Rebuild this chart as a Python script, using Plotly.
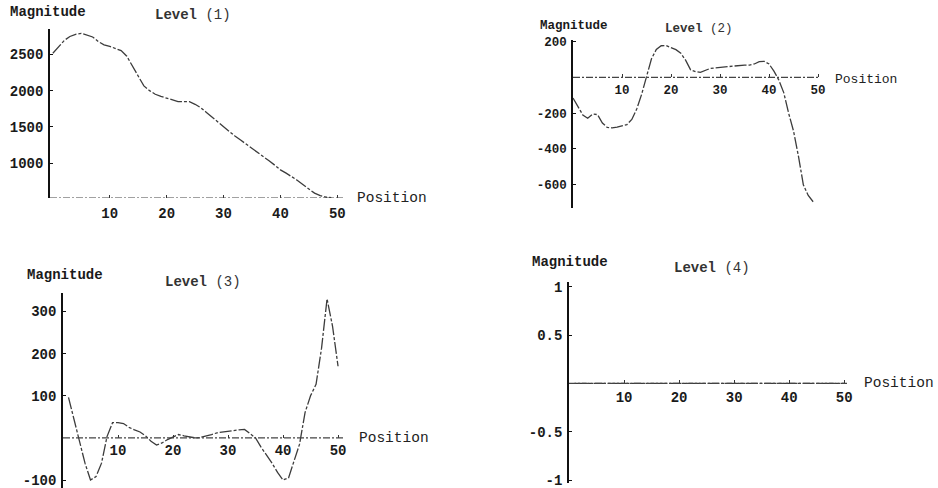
import plotly.graph_objects as go

W, H = 938, 488

# ---------------- data ----------------
pos_a = list(range(0, 50))   # positions used by levels 1 and 2
pos_b = list(range(1, 51))   # positions used by levels 3 and 4

level1 = [2514, 2597, 2690, 2745, 2775, 2788, 2765, 2738, 2675, 2630,
          2610, 2580, 2550, 2473, 2337, 2200, 2065, 2000, 1950, 1920,
          1895, 1870, 1850, 1848, 1848, 1812, 1765, 1700, 1635, 1565,
          1500, 1435, 1375, 1320, 1265, 1205, 1150, 1095, 1035, 975,
          910, 865, 820, 765, 705, 645, 590, 555, 535, 528]

level2 = [-115, -165, -210, -228, -205, -208, -255, -280, -282, -278,
          -272, -264, -235, -177, -95, 0, 103, 156, 177, 178,
          168, 155, 135, 95, 42, 32, 28, 40, 50, 53,
          56, 58, 60, 63, 66, 69, 69, 75, 88, 90,
          75, 35, -15, -85, -200, -300, -440, -600, -660, -695]

level3 = [96, 45, -8, -60, -100, -92, -60, 3, 36, 36,
          34, 25, 19, 14, 5, -8, -17, -12, -4, 3,
          8, 5, 3, 0, 1, 4, 8, 12, 14, 16,
          18, 19, 20, 10, 0, -22, -40, -60, -82, -100,
          -95, -57, -15, 60, 100, 127, 213, 330, 265, 170]

level4 = [0, 0, 0, 0, 0, 0, 0, 0, 0, 0,
          0, 0, 0, 0, 0, 0, 0, 0, 0, 0,
          0, 0, 0, 0, 0, 0, 0, 0, 0, 0,
          0, 0, 0, 0, 0, 0, 0, 0, 0, 0,
          0, 0, 0, 0, 0, 0, 0, 0, 0, 0]

x_ticks = [10, 20, 30, 40, 50]
y_ticks1 = [1000, 1500, 2000, 2500]
y_ticks2 = [200, -200, -400, -600]
y_ticks3 = [300, 200, 100, -100]
y_ticks4 = [1, 0.5, -0.5, -1]
y_tick_text4 = ["1", "0.5", "-0.5", "-1"]

titles = ["Level (1)", "Level (2)", "Level (3)", "Level (4)"]

# ---------------- layout helpers ----------------
def fx(px):
    return px / W

def fy(py):
    return 1 - py / H

MONO = "Liberation Mono, Courier New, monospace"
LINE_COLOR = "#3c3c3c"

panels = [
    dict(x=pos_a, y=level1, xdom=(50, 343), xr=(-0.5, 51), ydom=(198, 29), yr=(523, 2848),
         axis_y=523, yt=y_ticks1, ytt=[str(v) for v in y_ticks1], fs=14,
         mag=(8, 12), lev=(153, 15), posl=(355, 198), std_x=5),
    dict(x=pos_a, y=level2, xdom=(573, 820), xr=(0, 50.4), ydom=(208, 40), yr=(-730, 209),
         axis_y=0, yt=y_ticks2, ytt=[str(v) for v in y_ticks2], fs=12.5,
         mag=(538, 26), lev=(663, 29), posl=(833, 79), std_x=3),
    dict(x=pos_b, y=level3, xdom=(63, 343), xr=(0, 50.9), ydom=(488, 293), yr=(-119, 344),
         axis_y=0, yt=y_ticks3, ytt=[str(v) for v in y_ticks3], fs=14,
         mag=(25, 275), lev=(163, 282), posl=(357, 438), std_x=2),
    dict(x=pos_b, y=level4, xdom=(569, 847), xr=(0, 50.5), ydom=(483, 282), yr=(-1.03, 1.05),
         axis_y=0, yt=y_ticks4, ytt=y_tick_text4, fs=14,
         mag=(530, 262), lev=(672, 268), posl=(862, 383), std_x=4),
]

fig = go.Figure()
layout = dict(
    width=W, height=H,
    margin=dict(l=0, r=0, t=0, b=0, autoexpand=False),
    paper_bgcolor="white", plot_bgcolor="rgba(0,0,0,0)",
    showlegend=False,
    font=dict(family=MONO, color="#1a1a1a"),
)
annotations = []
shapes = []

for i, p in enumerate(panels):
    n = "" if i == 0 else str(i + 1)
    xa, ya = "x" + n, "y" + n
    fig.add_trace(go.Scatter(
        x=p["x"], y=p["y"], mode="lines", xaxis=xa, yaxis=ya,
        line=dict(color=LINE_COLOR, width=1.3, dash="12px,2px,3px,2px"),
        hoverinfo="skip", cliponaxis=False,
    ))
    ydom = (fy(p["ydom"][0]), fy(p["ydom"][1]))
    frac = (p["axis_y"] - p["yr"][0]) / (p["yr"][1] - p["yr"][0])
    xpos = ydom[0] + frac * (ydom[1] - ydom[0])
    tickfont = dict(family=MONO, size=p["fs"], color="#1a1a1a", weight="bold")
    layout["xaxis" + n] = dict(
        domain=[fx(p["xdom"][0]), fx(p["xdom"][1])], range=list(p["xr"]),
        anchor="free", position=xpos, automargin=False,
        showgrid=False, zeroline=False, showline=False,
        tickmode="array", tickvals=x_ticks, ticktext=[str(v) for v in x_ticks],
        ticks="inside", ticklen=3, tickcolor="#333", tickwidth=1,
        tickfont=tickfont, ticklabelstandoff=p["std_x"], ticklabeloverflow="allow",
    )
    layout["yaxis" + n] = dict(
        domain=list(ydom), range=list(p["yr"]), automargin=False,
        anchor=xa, side="left",
        showgrid=False, zeroline=False, showline=True, linecolor="#111", linewidth=1.6,
        tickmode="array", tickvals=p["yt"], ticktext=p["ytt"],
        ticks="inside", ticklen=3, tickcolor="#111", tickwidth=1,
        tickfont=tickfont, ticklabelstandoff=2, ticklabeloverflow="allow",
    )
    # horizontal axis line (drawn dashed like the scanned original)
    shapes.append(dict(type="line", xref=xa + " domain", yref=ya,
                       x0=0, x1=1, y0=p["axis_y"], y1=p["axis_y"],
                       line=dict(color="#444", width=1.2, dash="7px,2px,2px,2px")))
    fsz = p["fs"]
    annotations.append(dict(text="<b>Magnitude</b>", xref="paper", yref="paper",
                            x=fx(p["mag"][0]), y=fy(p["mag"][1]), xanchor="left", yanchor="middle",
                            showarrow=False, font=dict(family=MONO, size=fsz, color="#1a1a1a")))
    lev_word, lev_num = titles[i].split(" ")
    annotations.append(dict(text="<b>" + lev_word + "</b> " + lev_num, xref="paper", yref="paper",
                            x=fx(p["lev"][0]), y=fy(p["lev"][1]), xanchor="left", yanchor="middle",
                            showarrow=False, font=dict(family=MONO, size=fsz, color="#333")))
    annotations.append(dict(text="Position", xref="paper", yref="paper",
                            x=fx(p["posl"][0]), y=fy(p["posl"][1]), xanchor="left", yanchor="middle",
                            showarrow=False, font=dict(family=MONO, size=fsz + 0.5, color="#222")))

layout["annotations"] = annotations
layout["shapes"] = shapes
fig.update_layout(**layout)

page_fix = (
    "document.documentElement.style.overflow='hidden';"
    "document.body.style.margin='0';"
    "document.body.style.overflow='hidden';"
)
fig.write_html("out.html", config={"displayModeBar": False}, post_script=page_fix)
